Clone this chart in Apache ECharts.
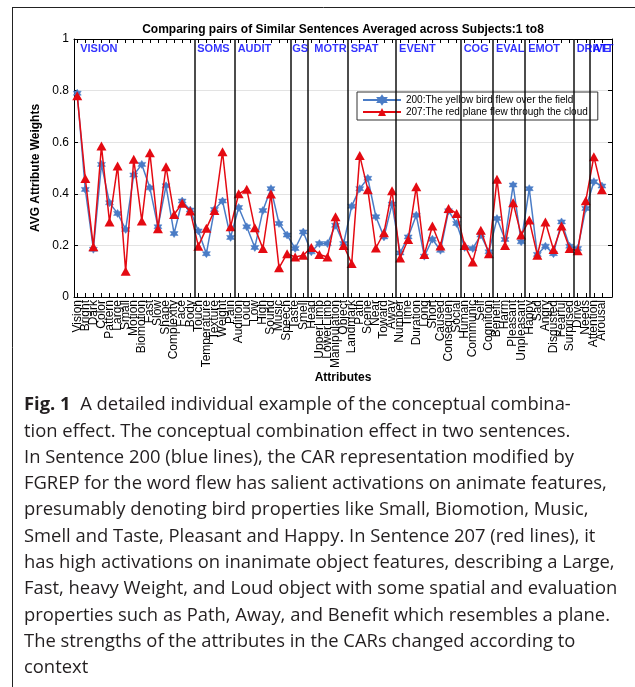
<!DOCTYPE html>
<html><head><meta charset="utf-8">
<script src="https://cdn.jsdelivr.net/npm/echarts@6/dist/echarts.min.js"></script>
<style>html,body{margin:0;padding:0;background:#fff}#c{width:635px;height:687px}</style>
</head><body><div id="c"></div>
<script>
const categories = ['Vision','Bright','Dark','Color','Pattern','Large','Small','Motion','Biomotion','Fast','Slow','Shape','Complexity','Face','Body',
  'Touch','Temperature','Texture','Weight','Pain',
  'Audition','Loud','Low','High','Sound','Music','Speech',
  'Taste','Smell',
  'Head','UpperLimb','LowerLimb','Manipulation','Object',
  'Landmark','Path','Scene','Near','Toward','Away',
  'Number','Time','Duration','Long','Short','Caused','Consequen','Social',
  'Human','Communic','Self','Cognition',
  'Benefit','Harm','Pleasant','Unpleasant',
  'Happy','Sad','Angry','Disgusted','Fearful','Surprised',
  'Drive','Needs',
  'Attention','Arousal'];
const groupNames = ['VISION','SOMS','AUDIT','GS','MOTR','SPAT','EVENT','COG','EVAL','EMOT','DRIVE','ATT'];
const groupSizes = [15,5,7,2,5,6,8,4,4,6,2,2];
const sentence200 = [0.79,0.417,0.185,0.514,0.365,0.324,0.262,0.473,0.514,0.423,0.272,0.431,0.246,0.372,0.337,
  0.256,0.168,0.339,0.372,0.231,
  0.347,0.272,0.192,0.335,0.42,0.285,0.24,
  0.188,0.252,
  0.175,0.207,0.207,0.278,0.207,
  0.352,0.42,0.46,0.311,0.233,0.36,
  0.171,0.233,0.317,0.158,0.224,0.181,0.334,0.285,
  0.192,0.188,0.24,0.175,
  0.304,0.223,0.434,0.214,
  0.42,0.165,0.197,0.168,0.291,0.197,
  0.188,0.343,
  0.447,0.43];
const sentence207 = [0.78,0.459,0.195,0.585,0.291,0.508,0.10,0.534,0.295,0.559,0.265,0.505,0.32,0.363,0.333,
  0.197,0.266,0.335,0.563,0.272,
  0.40,0.418,0.268,0.188,0.399,0.113,0.168,
  0.155,0.162,
  0.192,0.165,0.155,0.311,0.2,
  0.13,0.548,0.416,0.19,0.249,0.412,
  0.151,0.223,0.427,0.165,0.275,0.198,0.343,0.324,
  0.2,0.136,0.259,0.168,
  0.456,0.2,0.365,0.24,
  0.298,0.162,0.291,0.184,0.275,0.188,
  0.179,0.373,
  0.544,0.416];
const legendNames = ['200:The yellow bird flew over the field','207:The red plane flew through the cloud'];
const titleText = 'Comparing pairs of Similar Sentences Averaged across Subjects:1 to8';
const captionLines = [
  '{b|Fig. 1}  A detailed individual example of the conceptual combina-',
  'tion effect. The conceptual combination effect in two sentences.',
  'In Sentence 200 (blue lines), the CAR representation modified by',
  'FGREP for the word flew has salient activations on animate features,',
  'presumably denoting bird properties like Small, Biomotion, Music,',
  'Smell and Taste, Pleasant and Happy. In Sentence 207 (red lines), it',
  'has high activations on inanimate object features, describing a Large,',
  'Fast, heavy Weight, and Loud object with some spatial and evaluation',
  'properties such as Path, Away, and Benefit which resembles a plane.',
  'The strengths of the attributes in the CARs changed according to',
  'context'];

const FONT = '"Liberation Sans", Arial, Helvetica, sans-serif';
const CAPFONT = '"Open Sans", sans-serif';
const XMIN = 0.6, XMAX = 67.25;
const idx = categories.map((_, i) => i + 1);
const labelValues = [XMIN].concat(idx, [XMAX]);
const boundaries = [];
const groupStarts = [];
let acc = 0;
groupSizes.forEach((n, i) => { groupStarts.push(acc + 1); if (i > 0) boundaries.push(acc + 0.5); acc += n; });
const labelNudge = { GS: 1, MOTR: 7 };
const groupLabelData = groupNames.map((g, i) => {
  const item = { name: g, value: [i === 0 ? 1 : groupStarts[i] - 0.5, 0.96] };
  if (labelNudge[g] !== undefined) item.label = { distance: labelNudge[g] };
  return item;
});

const star = 'path://M0,-10L2.887,-5L8.66,-5L5.774,0L8.66,5L2.887,5L0,10L-2.887,5L-8.66,5L-5.774,0L-8.66,-5L-2.887,-5Z';
const BLUE = '#4a7cc6', RED = '#e40a12';

const graphics = [
  { type: 'line', shape: { x1: 12, y1: 7.5, x2: 635, y2: 7.5 }, style: { stroke: '#222', lineWidth: 1 } },
  { type: 'line', shape: { x1: 12.5, y1: 7.5, x2: 12.5, y2: 687 }, style: { stroke: '#222', lineWidth: 1 } }
];
captionLines.forEach((t, i) => {
  graphics.push({ type: 'text', x: 24, y: 405 + i * 26.3,
    style: { text: t, fill: '#231f20', font: '18.4px ' + CAPFONT, verticalAlign: 'middle',
      rich: { b: { fontWeight: 'bold', fontSize: 18.4, fontFamily: CAPFONT, fill: '#231f20' } } } });
});

const chart = echarts.init(document.getElementById('c'), null, { renderer: 'canvas' });
chart.setOption({
  animation: false,
  backgroundColor: '#fff',
  textStyle: { fontFamily: FONT },
  title: { text: titleText, left: 343, top: 24, textAlign: 'center', padding: 0,
    textStyle: { fontSize: 12, fontWeight: 'bold', color: '#000', fontFamily: FONT } },
  grid: { left: 74, right: 23, top: 39, height: 258, containLabel: false },
  legend: { data: legendNames, orient: 'vertical', left: 357, top: 92, padding: [3, 10, 3, 5],
    itemWidth: 38, itemHeight: 10, itemGap: 2, backgroundColor: '#fff', borderColor: '#333', borderWidth: 1,
    textStyle: { fontSize: 10, color: '#000', fontFamily: FONT } },
  xAxis: [
    { type: 'value', min: XMIN, max: XMAX, position: 'bottom',
      axisLine: { show: true, onZero: false, lineStyle: { color: '#000', width: 1 } },
      axisTick: { show: true, inside: true, length: 4, customValues: idx, lineStyle: { color: '#000' } },
      axisLabel: { customValues: labelValues,
        formatter: v => (Math.abs(v - Math.round(v)) < 1e-6 ? (categories[Math.round(v) - 1] || '') : ''),
        rotate: 90, showMinLabel: false, showMaxLabel: false, hideOverlap: false,
        fontSize: 12, color: '#000', margin: 3, fontFamily: FONT },
      splitLine: { show: false },
      name: 'Attributes', nameLocation: 'middle', nameGap: 75,
      nameTextStyle: { fontSize: 12, fontWeight: 'bold', color: '#000', fontFamily: FONT } },
    { type: 'value', min: XMIN, max: XMAX, position: 'top',
      axisLine: { show: true, onZero: false, lineStyle: { color: '#000', width: 1 } },
      axisTick: { show: true, inside: true, length: 4, customValues: idx, lineStyle: { color: '#000' } },
      axisLabel: { show: false }, splitLine: { show: false } }
  ],
  yAxis: [
    { type: 'value', min: 0, max: 1, interval: 0.2, position: 'left',
      axisLine: { show: true, onZero: false, lineStyle: { color: '#000', width: 1 } },
      axisTick: { show: true, inside: true, length: 4, lineStyle: { color: '#000' } },
      axisLabel: { fontSize: 12, color: '#000', margin: 5, fontFamily: FONT },
      splitLine: { show: true, lineStyle: { color: '#e3e3e3', width: 1 } },
      name: 'AVG Attribute Weights', nameLocation: 'middle', nameGap: 30,
      nameTextStyle: { fontSize: 12, fontWeight: 'bold', color: '#000', fontFamily: FONT } },
    { type: 'value', min: 0, max: 1, interval: 0.2, position: 'right',
      axisLine: { show: true, onZero: false, lineStyle: { color: '#000', width: 1 } },
      axisTick: { show: true, inside: true, length: 4, lineStyle: { color: '#000' } },
      axisLabel: { show: false }, splitLine: { show: false } }
  ],
  series: [
    { name: legendNames[0], type: 'line', xAxisIndex: 0, yAxisIndex: 0,
      data: idx.map(i => [i, sentence200[i - 1]]),
      symbol: star, symbolSize: 8, showAllSymbol: true,
      lineStyle: { color: BLUE, width: 1.5 }, itemStyle: { color: BLUE, borderColor: BLUE, borderWidth: 0.5 },
      z: 3,
      markLine: { silent: true, symbol: ['none', 'none'], label: { show: false },
        lineStyle: { color: '#111', width: 1.5, type: 'solid' },
        emphasis: { disabled: true },
        data: boundaries.map(b => ({ xAxis: b })) } },
    { name: legendNames[1], type: 'line', xAxisIndex: 0, yAxisIndex: 0,
      data: idx.map(i => [i, sentence207[i - 1]]),
      symbol: 'triangle', symbolSize: [10, 9], showAllSymbol: true,
      lineStyle: { color: RED, width: 1.5 }, itemStyle: { color: RED },
      z: 4 },
    { name: 'groups', type: 'scatter', xAxisIndex: 0, yAxisIndex: 0,
      data: groupLabelData, symbolSize: 0, silent: true, z: 5,
      label: { show: true, formatter: '{b}', position: 'right', distance: 3,
        color: '#0000ff', fontWeight: 'bold', fontSize: 11, fontFamily: FONT } }
  ],
  graphic: graphics
});
</script></body></html>
